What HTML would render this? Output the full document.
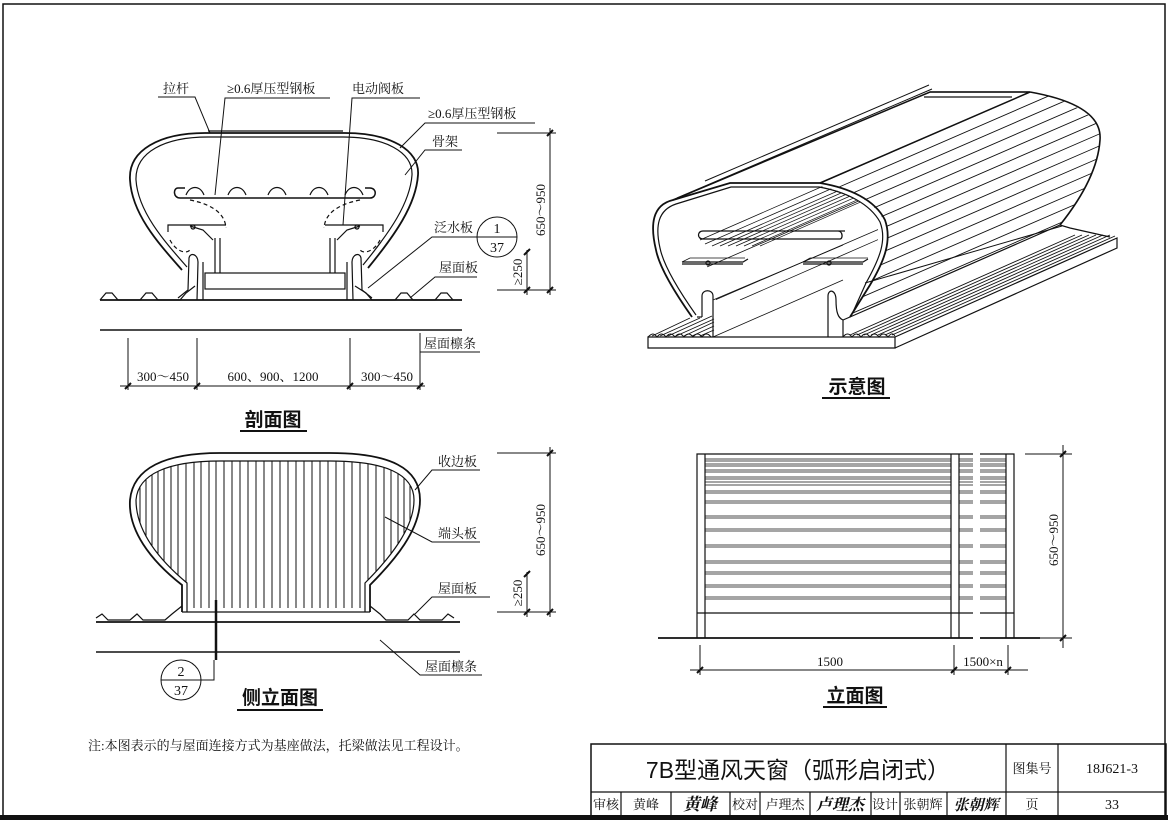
<!DOCTYPE html>
<html><head><meta charset="utf-8"><style>
html,body{margin:0;padding:0;background:#fff;}
svg{display:block;}
text{font-family:"Liberation Serif","Noto Serif CJK SC","Noto Sans CJK SC",serif;fill:#111;}
.s{font-family:"Liberation Sans","Noto Sans CJK SC",sans-serif;}
</style></head><body>
<svg width="1168" height="820" viewBox="0 0 1168 820" xmlns="http://www.w3.org/2000/svg">
<defs>
<clipPath id="sideClip"><path d="M187,608 L187,583 C157,558 136,530 136,500 C138,474 168,461 220,461 L330,461 C385,461 414,474 414,500 C414,528 390,558 365,583 L365,608 Z"/></clipPath>
<clipPath id="perspClip"><path d="M820,183 L1030,92 C1070,100 1100,115 1100,137 C1098,170 1080,200 1060,225 L850,317 C875,280 890,255 888,233 C885,210 860,190 820,183 Z"/></clipPath>
<clipPath id="innerClip"><path d="M730,186 L820,186 C850,192 870,205 878,225 L878,300 L716,300 L700,240 L680,215 Z"/></clipPath>
</defs>
<g fill="none" stroke="#111" stroke-width="1.2">
<rect x="3" y="4" width="1162" height="812" stroke-width="1.5"/>
<line x1="0" y1="817.5" x2="1168" y2="817.5" stroke-width="5"/>
<rect x="591" y="744" width="575" height="72" stroke-width="1.5"/>
<line x1="591" y1="792" x2="1166" y2="792"/>
<line x1="1006" y1="744" x2="1006" y2="816"/>
<line x1="1058" y1="744" x2="1058" y2="816"/>
<line x1="621" y1="792" x2="621" y2="816"/>
<line x1="671" y1="792" x2="671" y2="816"/>
<line x1="730" y1="792" x2="730" y2="816"/>
<line x1="760" y1="792" x2="760" y2="816"/>
<line x1="810" y1="792" x2="810" y2="816"/>
<line x1="871" y1="792" x2="871" y2="816"/>
<line x1="900" y1="792" x2="900" y2="816"/>
<line x1="947" y1="792" x2="947" y2="816"/>

<path d="M205,133 L345,133 C390,133 420,150 418,175 C416,205 395,235 368,268" stroke-width="1.8"/>
<path d="M208,137 L343,137 C385,137 413,152 412,175 C410,203 390,232 363,265"/>
<path d="M205,133 C160,133 128,150 130,180 C132,215 160,245 182,270" stroke-width="1.8"/>
<path d="M208,137 C165,137 135,152 136,180 C138,212 165,242 187,267"/>
<line x1="208" y1="131" x2="343" y2="131"/>
<path d="M185,188 L178,188 C173,188 173,198 180,198 L370,198 C377,198 377,188 370,188 L365,188" stroke-width="1.5"/>
<path d="M186,195 C190,185 200,185 204,195 M228,195 C232,185 242,185 246,195 M268,195 C272,185 282,185 286,195 M310,195 C314,185 324,185 328,195 M345,195 C349,185 359,185 363,195"/>
<path d="M190,200 C215,205 225,215 226,228" stroke-dasharray="4,3"/>
<path d="M360,200 C335,205 325,215 324,228" stroke-dasharray="4,3"/>
<path d="M170,240 C175,250 185,255 190,250" stroke-dasharray="4,3"/>
<path d="M380,240 C375,250 365,255 360,250" stroke-dasharray="4,3"/>
<path d="M168,232 L168,225 L226,225 M325,225 L383,225 L383,232"/>
<path d="M190,226 L203,230 L213,240 M360,226 L347,230 L337,240"/>
<circle cx="193" cy="227" r="2"/><circle cx="357" cy="227" r="2"/>
<line x1="215" y1="238" x2="215" y2="273"/><line x1="220" y1="238" x2="220" y2="273"/>
<line x1="335" y1="238" x2="335" y2="273"/><line x1="330" y1="238" x2="330" y2="273"/>
<rect x="205" y="273" width="140" height="16"/>
<path d="M197,300 L198,262 C198,254 190,252 189,258 L188,290 L178,298"/>
<path d="M203,300 L203,262"/>
<path d="M353,300 L352,262 C352,254 360,252 361,258 L362,290 L372,298"/>
<path d="M347,300 L347,262"/>
<line x1="100" y1="300" x2="462" y2="300" stroke-width="1.8"/>
<polyline points="100,300 106,293 112,293 118,300 140,300 146,293 152,293 158,300 180,300 186,293 195,286"/>
<polyline points="355,286 366,293 372,300 395,300 401,293 407,293 413,300 435,300 441,293 447,293 453,300"/>
<line x1="100" y1="330" x2="462" y2="330" stroke-width="1.6"/>
<polyline points="158,97 195,97 210,133" stroke-width="1"/>
<polyline points="330,98 225,98 215,195" stroke-width="1"/>
<polyline points="420,98 352,98 343,225" stroke-width="1"/>
<polyline points="535,123 425,123 400,148" stroke-width="1"/>
<polyline points="462,150 425,150 405,175" stroke-width="1"/>
<polyline points="477,237 432,237 368,288" stroke-width="1"/>
<polyline points="477,277 435,277 410,298" stroke-width="1"/>
<circle cx="497" cy="237" r="20" stroke-width="1"/>
<line x1="477" y1="237" x2="517" y2="237" stroke-width="1"/>
<polyline points="480,352 420,352 420,333" stroke-width="1"/>
<line x1="120" y1="386" x2="425" y2="386" stroke-width="1"/>
<line x1="128" y1="338" x2="128" y2="390" stroke-width="1"/>
<line x1="197" y1="338" x2="197" y2="390" stroke-width="1"/>
<line x1="350" y1="338" x2="350" y2="390" stroke-width="1"/>
<line x1="420" y1="338" x2="420" y2="390" stroke-width="1"/>
<path d="M125,389 L131,383 M194,389 L200,383 M347,389 L353,383 M417,389 L423,383" stroke-width="2"/>
<line x1="497" y1="133" x2="556" y2="133" stroke-width="1"/>
<line x1="497" y1="290" x2="556" y2="290" stroke-width="1"/>
<line x1="550" y1="128" x2="550" y2="295" stroke-width="1"/>
<line x1="527" y1="250" x2="527" y2="295" stroke-width="1"/>
<path d="M547,136 L553,130 M547,293 L553,287 M524,255 L530,249 M524,293 L530,287" stroke-width="2"/>
<line x1="240" y1="431" x2="307" y2="431" stroke-width="2"/>

<g clip-path="url(#sideClip)" stroke-width="1">
<path d="M140,440V620M146,440V620M152,440V620M158,440V620M164,440V620M171,440V620M178,440V620M186,440V620M194,440V620M201,440V620M209,440V620M216,440V620M224,440V620M232,440V620M240,440V620M248,440V620M256,440V620M264,440V620M272,440V620M280,440V620M288,440V620M296,440V620M304,440V620M312,440V620M320,440V620M328,440V620M336,440V620M344,440V620M352,440V620M360,440V620M368,440V620M376,440V620M384,440V620M391,440V620M398,440V620M404,440V620M410,440V620"/>
</g>
<path d="M182,612 L182,585 C150,560 128,530 130,500 C133,468 165,453 220,453 L330,453 C390,453 420,468 420,500 C420,530 395,560 370,585 L370,612" stroke-width="1.8"/>
<path d="M187,612 L187,583 C157,558 136,530 136,500 C138,474 168,461 220,461 L330,461 C385,461 414,474 414,500 C414,528 390,558 365,583 L365,612"/>
<line x1="182" y1="612" x2="370" y2="612"/>
<line x1="96" y1="622" x2="460" y2="622" stroke-width="1.8"/>
<polyline points="96,618 102,614 108,620 130,620 137,614 143,620 165,620 172,614 182,606"/>
<polyline points="370,606 380,614 386,620 408,620 414,614 420,620 442,620 448,614 454,618"/>
<line x1="96" y1="652" x2="460" y2="652" stroke-width="1.6"/>
<line x1="216" y1="600" x2="216" y2="660" stroke-width="2.5"/>
<circle cx="181" cy="680" r="20" stroke-width="1"/>
<line x1="161" y1="680" x2="201" y2="680" stroke-width="1"/>
<polyline points="201,680 214,680 214,660" stroke-width="1"/>
<polyline points="480,470 432,470 415,490" stroke-width="1"/>
<polyline points="480,542 432,542 385,517" stroke-width="1"/>
<polyline points="490,597 432,597 415,614" stroke-width="1"/>
<polyline points="482,675 420,675 380,640" stroke-width="1"/>
<line x1="497" y1="453" x2="556" y2="453" stroke-width="1"/>
<line x1="497" y1="612" x2="556" y2="612" stroke-width="1"/>
<line x1="550" y1="447" x2="550" y2="617" stroke-width="1"/>
<line x1="527" y1="572" x2="527" y2="617" stroke-width="1"/>
<path d="M547,456 L553,450 M547,615 L553,609 M524,577 L530,571 M524,615 L530,609" stroke-width="2"/>
<line x1="237" y1="710" x2="323" y2="710" stroke-width="2"/>

<path d="M648,337 L895,337 L895,348 L648,348 Z"/>
<path d="M895,348 L1117,248 L1117,238 L895,337"/>
<path d="M850,317 L1060,225 L1070,228 L1110,237"/>
<g stroke-width="0.9">
<path d="M850,335 L1075,235 M857,335 L1082,235 M864,335 L1089,235 M871,335 L1096,235 M878,335 L1103,235 M885,335 L1110,235 M892,335 L1115,236"/>
<path d="M652,336 L690,318 M660,336 L700,318 M668,336 L712,316 M676,336 L714,319 M684,336 L714,322 M692,336 L714,326 M700,336 L714,330"/>
</g>
<path d="M648,337 C652,333 654,333 657,337 C660,333 663,333 666,337 C669,333 672,333 675,337 C678,333 681,333 684,337 C687,333 690,333 693,337 C696,333 699,333 702,337 C705,333 708,333 711,337" stroke-width="0.9"/>
<path d="M843,337 C846,333 849,333 852,337 C855,333 858,333 861,337 C864,333 867,333 870,337 C873,333 876,333 879,337 C882,333 885,333 888,337 C891,333 893,333 895,336" stroke-width="0.9"/>
<g clip-path="url(#perspClip)" stroke-width="0.9">
<path d="M800,180 L1120,41 M800,192 L1120,53 M800,204 L1120,65 M800,216 L1120,77 M800,228 L1120,89 M800,240 L1120,101 M800,252 L1120,113 M800,264 L1120,125 M800,276 L1120,137 M800,288 L1120,149 M800,300 L1120,161 M800,312 L1120,173 M800,324 L1120,185 M800,336 L1120,197 M800,348 L1120,209"/>
</g>
<g clip-path="url(#innerClip)" stroke-width="0.8">
<path d="M700,240 L860,170 M705,244 L865,174 M712,246 L872,176 M720,246 L880,176 M728,246 L888,176 M736,246 L896,176 M744,246 L904,176 M752,246 L912,176 M760,246 L920,176 M700,270 L900,183 M715,300 L900,220 M740,300 L900,230"/>
</g>
<path d="M692,317 C680,300 660,270 656,250 C650,225 652,205 673,200 L730,183 L820,183 C850,188 875,200 885,220 C892,240 885,260 870,285 L850,317" stroke-width="1.8"/>
<path d="M696,315 C684,298 664,268 660,248 C655,226 658,210 676,204 L731,187 L819,187 C847,192 870,204 880,222 C887,240 880,258 866,283 L853,312"/>
<path d="M673,200 L930,92 L1030,92 L820,183" stroke-width="1.5"/>
<path d="M677,198 L932,89 M705,181 L929,85" stroke-width="1"/>
<path d="M930,92 L1030,92 M924,97 L1012,97"/>
<path d="M1030,92 C1075,100 1102,115 1100,140 C1098,170 1080,200 1060,225" stroke-width="1.6"/>
<path d="M865,283 L1062,226" stroke-width="1"/>
<path d="M845,231 L703,231 C697,231 697,239 703,239 L840,239 C843,239 843,231 838,231" stroke-width="1.3"/>
<path d="M682,262 L743,262 L748,259 M803,262 L863,262 L868,259 M682,264 L743,264 M803,264 L863,264"/>
<path d="M682,262 L690,258 L745,258 M803,262 L810,258 L868,258" stroke-width="0.8"/>
<circle cx="708" cy="263" r="2"/><circle cx="829" cy="263" r="2"/>
<path d="M702,317 L702,296 C702,289 713,289 713,296 L713,337"/>
<path d="M697,317 L702,317"/>
<path d="M843,337 L843,320 C838,318 836,312 836,300 C836,289 828,289 828,296 L828,337"/>
<path d="M843,320 L850,317"/>
<path d="M713,300 L843,245" stroke-width="0.8"/>
<path d="M713,337 L843,280" stroke-width="0.8"/>
<line x1="822" y1="398" x2="890" y2="398" stroke-width="2"/>

<path d="M697,638 L697,454 L973,454 M980,454 L1014,454 L1014,638"/>
<line x1="705" y1="454" x2="705" y2="638"/>
<line x1="951" y1="454" x2="951" y2="638"/>
<line x1="959" y1="454" x2="959" y2="638"/>
<line x1="1006" y1="454" x2="1006" y2="638"/>
<path d="M697,613 L973,613 M980,613 L1014,613"/>
<path d="M658,638 L973,638 M980,638 L1040,638" stroke-width="1.8"/>
<g stroke-width="0.8">
<path d="M705,459H951M705,461H951M705,464H951M705,466H951M705,470H951M705,472H951M705,477H951M705,479H951M705,482H951M705,485H951M705,491H951M705,493H951M705,501H951M705,503H951M705,516H951M705,518H951M705,529H951M705,531H951M705,545H951M705,547H951M705,561H951M705,563H951M705,572H951M705,574H951M705,585H951M705,587H951M705,597H951M705,599H951"/>
<path d="M959,459H973M959,461H973M959,464H973M959,466H973M959,470H973M959,472H973M959,477H973M959,479H973M959,482H973M959,485H973M959,491H973M959,493H973M959,501H973M959,503H973M959,516H973M959,518H973M959,529H973M959,531H973M959,545H973M959,547H973M959,561H973M959,563H973M959,572H973M959,574H973M959,585H973M959,587H973M959,597H973M959,599H973"/>
<path d="M980,459H1006M980,461H1006M980,464H1006M980,466H1006M980,470H1006M980,472H1006M980,477H1006M980,479H1006M980,482H1006M980,485H1006M980,491H1006M980,493H1006M980,501H1006M980,503H1006M980,516H1006M980,518H1006M980,529H1006M980,531H1006M980,545H1006M980,547H1006M980,561H1006M980,563H1006M980,572H1006M980,574H1006M980,585H1006M980,587H1006M980,597H1006M980,599H1006"/>
</g>
<line x1="690" y1="670" x2="1028" y2="670" stroke-width="1"/>
<line x1="700" y1="645" x2="700" y2="675" stroke-width="1"/>
<line x1="954" y1="645" x2="954" y2="675" stroke-width="1"/>
<line x1="1008" y1="645" x2="1008" y2="675" stroke-width="1"/>
<path d="M697,673 L703,667 M951,673 L957,667 M1005,673 L1011,667" stroke-width="2"/>
<line x1="1025" y1="454" x2="1072" y2="454" stroke-width="1"/>
<line x1="1040" y1="638" x2="1072" y2="638" stroke-width="1"/>
<line x1="1063" y1="445" x2="1063" y2="648" stroke-width="1"/>
<path d="M1060,457 L1066,451 M1060,641 L1066,635" stroke-width="2"/>
<line x1="823" y1="707" x2="887" y2="707" stroke-width="2"/>
</g>

<g font-size="13">
<text x="163" y="93">拉杆</text>
<text x="227" y="93">≥0.6厚压型钢板</text>
<text x="352" y="93">电动阀板</text>
<text x="428" y="118">≥0.6厚压型钢板</text>
<text x="432" y="146">骨架</text>
<text x="434" y="232">泛水板</text>
<text x="439" y="272">屋面板</text>
<text x="424" y="348">屋面檩条</text>
<text x="497" y="233" text-anchor="middle" font-size="14">1</text>
<text x="497" y="252" text-anchor="middle" font-size="14">37</text>
<text x="163" y="381" text-anchor="middle">300～450</text>
<text x="273" y="381" text-anchor="middle">600、900、1200</text>
<text x="387" y="381" text-anchor="middle">300～450</text>
<text transform="translate(545,210) rotate(-90)" text-anchor="middle">650～950</text>
<text transform="translate(522,272) rotate(-90)" text-anchor="middle">≥250</text>
<text x="438" y="466">收边板</text>
<text x="438" y="538">端头板</text>
<text x="438" y="593">屋面板</text>
<text x="425" y="671">屋面檩条</text>
<text x="181" y="676" text-anchor="middle" font-size="14">2</text>
<text x="181" y="695" text-anchor="middle" font-size="14">37</text>
<text transform="translate(545,530) rotate(-90)" text-anchor="middle">650～950</text>
<text transform="translate(522,593) rotate(-90)" text-anchor="middle">≥250</text>
<text x="830" y="666" text-anchor="middle">1500</text>
<text x="983" y="666" text-anchor="middle">1500×n</text>
<text transform="translate(1058,540) rotate(-90)" text-anchor="middle">650～950</text>
<text x="88" y="750" font-size="13">注:本图表示的与屋面连接方式为基座做法，托梁做法见工程设计。</text>
</g>
<g font-size="19" class="s" font-weight="bold">
<text class="s" x="273" y="426" text-anchor="middle">剖面图</text>
<text class="s" x="280" y="704" text-anchor="middle">侧立面图</text>
<text class="s" x="857" y="393" text-anchor="middle">示意图</text>
<text class="s" x="855" y="702" text-anchor="middle">立面图</text>
</g>
<text class="s" x="798" y="778" text-anchor="middle" font-size="23">7B型通风天窗（弧形启闭式）</text>
<g font-size="13">
<text x="1032" y="773" text-anchor="middle">图集号</text>
<text x="1112" y="773" text-anchor="middle" font-size="14">18J621-3</text>
<text x="1032" y="809" text-anchor="middle">页</text>
<text x="1112" y="809" text-anchor="middle" font-size="14">33</text>
<text x="606" y="809" text-anchor="middle">审核</text>
<text x="646" y="809" text-anchor="middle">黄峰</text>
<text x="700" y="810" text-anchor="middle" font-size="17" font-style="italic" font-weight="bold">黄峰</text>
<text x="745" y="809" text-anchor="middle">校对</text>
<text x="785" y="809" text-anchor="middle">卢理杰</text>
<text x="840" y="810" text-anchor="middle" font-size="16" font-style="italic" font-weight="bold">卢理杰</text>
<text x="885" y="809" text-anchor="middle">设计</text>
<text x="923" y="809" text-anchor="middle">张朝辉</text>
<text x="976" y="810" text-anchor="middle" font-size="15" font-style="italic" font-weight="bold">张朝辉</text>
</g>
</svg>
</body></html>
